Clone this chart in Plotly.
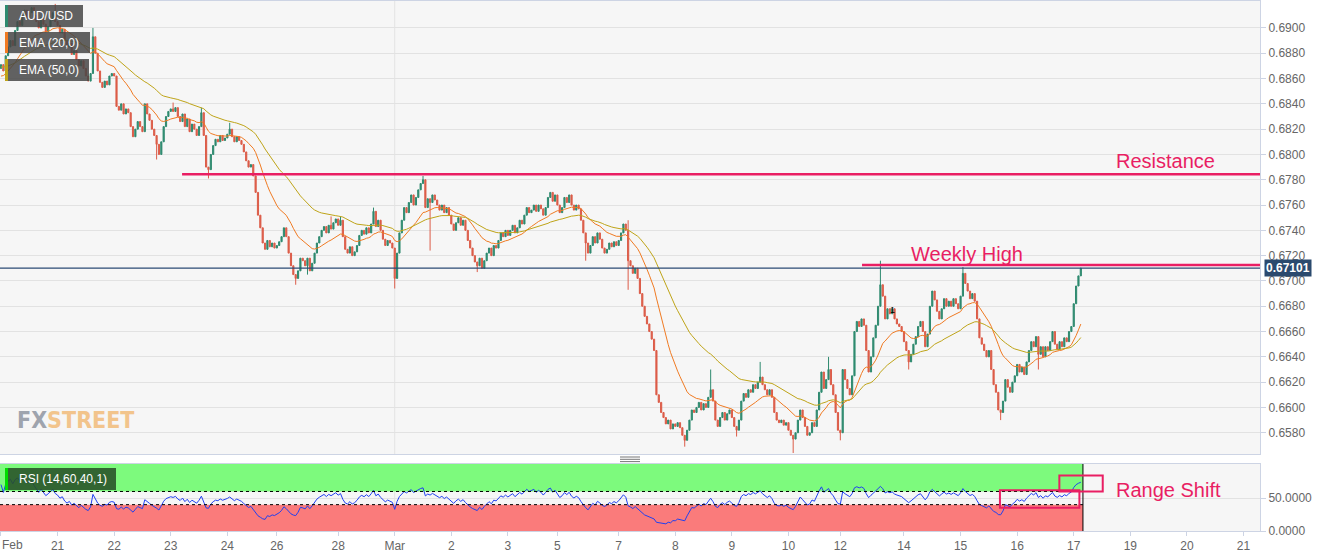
import numpy as np
import plotly.graph_objects as go
from plotly.subplots import make_subplots

# ---------------- data (hourly closes, AUD/USD) ----------------
first_open = 0.6868
feb20 = [0.6871, 0.6866, 0.6878, 0.6885, 0.6890, 0.6886, 0.6898, 0.6905, 0.6902, 0.6910,
         0.6914, 0.6908, 0.6912, 0.6916, 0.6910, 0.6905, 0.6900, 0.6908, 0.6903, 0.6897,
         0.6901, 0.6906, 0.6912, 0.6905]
feb21 = [0.6902, 0.6896, 0.6899, 0.6890, 0.6885, 0.6888, 0.6879, 0.6882, 0.6875, 0.6870,
         0.6874, 0.6868, 0.6862, 0.6858, 0.6864, 0.6893, 0.6880, 0.6866, 0.6857, 0.6853,
         0.6858, 0.6855, 0.6862, 0.6864]
feb22 = [0.6862, 0.6838, 0.6835, 0.6840, 0.6832, 0.6836, 0.6833, 0.6822, 0.6814, 0.6820,
         0.6826, 0.6822, 0.6818, 0.6840, 0.6832, 0.6827, 0.6820, 0.6815, 0.6808, 0.6800,
         0.6810, 0.6822, 0.6830, 0.6834]
feb23 = [0.6836, 0.6834, 0.6837, 0.6830, 0.6826, 0.6832, 0.6822, 0.6828, 0.6818, 0.6824,
         0.6820, 0.6815, 0.6822, 0.6833, 0.6815, 0.6790, 0.6788, 0.6800, 0.6807, 0.6812,
         0.6810, 0.6815, 0.6811, 0.6813]
feb24 = [0.6816, 0.6820, 0.6814, 0.6810, 0.6814, 0.6811, 0.6808, 0.6802, 0.6795, 0.6790,
         0.6792, 0.6783, 0.6770, 0.6752, 0.6742, 0.6730, 0.6725, 0.6732, 0.6727, 0.6730,
         0.6726]
feb26 = [0.6728, 0.6731]
feb27 = [0.6735, 0.6742, 0.6735, 0.6722, 0.6712, 0.6705, 0.6702, 0.6708, 0.6718, 0.6716,
         0.6712, 0.6718, 0.6708, 0.6714, 0.6722, 0.6730, 0.6735, 0.6740, 0.6743, 0.6738,
         0.6744, 0.6741, 0.6746, 0.6749]
feb28 = [0.6744, 0.6748, 0.6735, 0.6725, 0.6722, 0.6727, 0.6720, 0.6723, 0.6728, 0.6736,
         0.6740, 0.6737, 0.6742, 0.6738, 0.6745, 0.6755, 0.6743, 0.6748, 0.6740, 0.6733,
         0.6728, 0.6732, 0.6730, 0.6726]
mar01 = [0.6702, 0.6722, 0.6738, 0.6748, 0.6758, 0.6754, 0.6762, 0.6768, 0.6760, 0.6766,
         0.6772, 0.6777, 0.6780, 0.6758, 0.6765, 0.6762, 0.6768, 0.6764, 0.6760, 0.6756,
         0.6760, 0.6754, 0.6758, 0.6752]
mar02 = [0.6745, 0.6740, 0.6746, 0.6750, 0.6744, 0.6748, 0.6740, 0.6732, 0.6726, 0.6720,
         0.6715, 0.6712, 0.6718, 0.6710, 0.6716, 0.6722, 0.6726, 0.6720, 0.6728, 0.6726,
         0.6732, 0.6738, 0.6735, 0.6740]
mar03 = [0.6736, 0.6740, 0.6744, 0.6738, 0.6742, 0.6748, 0.6745, 0.6752, 0.6758, 0.6754,
         0.6756, 0.6760, 0.6755, 0.6760, 0.6757, 0.6752, 0.6758, 0.6766, 0.6770, 0.6763,
         0.6768]
mar05 = [0.6760, 0.6754]
mar06 = [0.6758, 0.6766, 0.6762, 0.6768, 0.6760, 0.6756, 0.6760, 0.6757, 0.6748, 0.6738,
         0.6730, 0.6722, 0.6728, 0.6735, 0.6730, 0.6738, 0.6733, 0.6726, 0.6722, 0.6725,
         0.6730, 0.6727, 0.6731, 0.6728]
mar07 = [0.6732, 0.6738, 0.6745, 0.6740, 0.6716, 0.6712, 0.6706, 0.6710, 0.6702, 0.6690,
         0.6680, 0.6672, 0.6666, 0.6660, 0.6654, 0.6645, 0.6610, 0.6604, 0.6596, 0.6592,
         0.6587, 0.6590, 0.6583, 0.6587]
mar08 = [0.6585, 0.6588, 0.6584, 0.6578, 0.6574, 0.6582, 0.6590, 0.6598, 0.6596, 0.6600,
         0.6604, 0.6598, 0.6603, 0.6600, 0.6608, 0.6614, 0.6605, 0.6590, 0.6585, 0.6592,
         0.6596, 0.6590, 0.6595, 0.6598]
mar09 = [0.6592, 0.6585, 0.6582, 0.6590, 0.6605, 0.6611, 0.6608, 0.6614, 0.6612, 0.6618,
         0.6615, 0.6620, 0.6624, 0.6618, 0.6614, 0.6610, 0.6614, 0.6608, 0.6596, 0.6590,
         0.6588, 0.6590, 0.6586, 0.6588]
mar10 = [0.6582, 0.6578, 0.6575, 0.6580, 0.6590, 0.6598, 0.6592, 0.6585, 0.6578, 0.6580,
         0.6588, 0.6585, 0.6598, 0.6612, 0.6628, 0.6615, 0.6622, 0.6630, 0.6618, 0.6610,
         0.6596, 0.6582]
mar12 = [0.6580, 0.6630, 0.6622]
mar13 = [0.6615, 0.6610, 0.6625, 0.6660, 0.6668, 0.6664, 0.6670, 0.6665, 0.6645, 0.6628,
         0.6640, 0.6655, 0.6665, 0.6680, 0.6697, 0.6688, 0.6670, 0.6678, 0.6674, 0.6678,
         0.6670, 0.6666, 0.6664, 0.6660]
mar14 = [0.6652, 0.6645, 0.6636, 0.6642, 0.6650, 0.6656, 0.6664, 0.6668, 0.6660, 0.6648,
         0.6658, 0.6680, 0.6692, 0.6685, 0.6676, 0.6670, 0.6678, 0.6686, 0.6680, 0.6684,
         0.6680, 0.6686, 0.6682, 0.6678]
mar15 = [0.6688, 0.6706, 0.6698, 0.6692, 0.6686, 0.6690, 0.6684, 0.6670, 0.6655, 0.6650,
         0.6645, 0.6640, 0.6645, 0.6630, 0.6618, 0.6612, 0.6598, 0.6596, 0.6605, 0.6622,
         0.6616, 0.6612, 0.6620, 0.6625]
mar16 = [0.6634, 0.6628, 0.6632, 0.6626, 0.6636, 0.6645, 0.6652, 0.6648, 0.6656, 0.6642,
         0.6648, 0.6640, 0.6648, 0.6645, 0.6652, 0.6660, 0.6650, 0.6646, 0.6652, 0.6648,
         0.6655, 0.6652, 0.6660, 0.6664]
mar17 = [0.6682, 0.6696, 0.6704, 0.67101]

# notable wick extremes (candle index -> price)
high_marks = {23: 0.6919, 39: 0.6900, 73: 0.6841, 85: 0.6837, 97: 0.6825, 140: 0.6751,
              144: 0.6751, 158: 0.6758, 179: 0.6783, 266: 0.6748, 301: 0.6630, 322: 0.6636,
              351: 0.6640, 373: 0.6716, 408: 0.6711}
low_marks = {66: 0.6796, 88: 0.6781, 125: 0.6697, 130: 0.6705, 167: 0.6694, 182: 0.6724,
             202: 0.6707, 248: 0.6716, 266: 0.6693, 290: 0.6569, 312: 0.6577, 336: 0.6564,
             356: 0.6574, 385: 0.6630, 424: 0.6590, 440: 0.6630}

ema20_seed = 0.6861
ema50_seed = 0.6869
rsi_seed_gain = 0.00012
rsi_seed_loss = 0.00006

tick_idx = [24, 48, 72, 96, 117, 143, 167, 191, 215, 236, 262, 286, 310, 334, 356,
            383, 407, 431, 455, 479, 503, 527]
tick_txt = ["21", "22", "23", "24", "26", "28", "Mar", "2", "3", "5", "7", "8", "9", "10",
            "12", "14", "15", "16", "17", "19", "20", "21"]

last_price = 0.67101
resistance = 0.67843
weekly_high = 0.67126

# ---------------- derived series ----------------
days = [feb20, feb21, feb22, feb23, feb24, feb26, feb27, feb28, mar01, mar02, mar03, mar05,
        mar06, mar07, mar08, mar09, mar10, mar12, mar13, mar14, mar15, mar16, mar17]
close = np.array([v for d in days for v in d])
n = len(close)
xi = np.arange(n)
open_ = np.concatenate([[first_open], close[:-1]])
high = np.maximum(open_, close)
low = np.minimum(open_, close)
for k, v in high_marks.items():
    high[k] = max(high[k], v)
for k, v in low_marks.items():
    low[k] = min(low[k], v)


def ema(vals, span, seed):
    a = 2.0 / (span + 1)
    out, prev = [], seed
    for v in vals:
        prev = a * v + (1 - a) * prev
        out.append(prev)
    return np.array(out)


ema20 = ema(close, 20, ema20_seed)
ema50 = ema(close, 50, ema50_seed)

rsi = []
ag, al = rsi_seed_gain, rsi_seed_loss
prev = first_open
for c in close:
    d = c - prev
    prev = c
    ag = (ag * 13 + max(d, 0)) / 14
    al = (al * 13 + max(-d, 0)) / 14
    rsi.append(100 - 100 / (1 + ag / al) if al > 0 else 100)
rsi = np.array(rsi)

# ---------------- figure ----------------
GREEN = "#2e8a6f"
RED = "#dc5c48"
PINK = "#E91E63"
FONT = "Liberation Sans, Arial, sans-serif"
AX = "#cdd4e4"
W, H = 1260.0, 530.0
XR = [-0.42, 534.0]


def px(x):
    return x / W


def py(y):
    return (531 - y) / H


fig = make_subplots(rows=2, cols=1, shared_xaxes=True)

fig.add_trace(go.Candlestick(
    x=xi, open=open_, high=high, low=low, close=close,
    increasing=dict(line=dict(color=GREEN, width=1), fillcolor=GREEN),
    decreasing=dict(line=dict(color=RED, width=1), fillcolor=RED),
    whiskerwidth=0, showlegend=False, name="AUD/USD"), row=1, col=1)
fig.add_trace(go.Scatter(x=xi, y=ema20, mode="lines", line=dict(color="#f07a22", width=1),
                         showlegend=False, name="EMA (20,0)"), row=1, col=1)
fig.add_trace(go.Scatter(x=xi, y=ema50, mode="lines", line=dict(color="#bfa418", width=1),
                         showlegend=False, name="EMA (50,0)"), row=1, col=1)
fig.add_trace(go.Scatter(x=xi, y=rsi, mode="lines", line=dict(color="#2040f0", width=1),
                         showlegend=False, name="RSI"), row=2, col=1)

end_x = n - 1 + 0.9
shapes = [
    # RSI bands
    dict(type="rect", xref="x2", yref="y2", x0=XR[0], x1=end_x, y0=60, y1=101.7,
         fillcolor="#7dfa7d", line=dict(width=0), layer="below"),
    dict(type="rect", xref="x2", yref="y2", x0=XR[0], x1=end_x, y0=0, y1=40,
         fillcolor="#fa7b7b", line=dict(width=0), layer="below"),
    dict(type="line", xref="x2", yref="y2", x0=XR[0], x1=end_x, y0=60, y1=60,
         line=dict(color="black", width=1, dash="dot")),
    dict(type="line", xref="x2", yref="y2", x0=XR[0], x1=end_x, y0=40, y1=40,
         line=dict(color="black", width=1, dash="dot")),
    dict(type="line", xref="x2", yref="y2", x0=end_x, x1=end_x, y0=0, y1=101.7,
         line=dict(color="black", width=1)),
    # Mar vertical grid line
    dict(type="line", xref="x", yref="paper", x0=167, x1=167, y0=py(454), y1=1,
         line=dict(color="#e3e3e3", width=1), layer="below"),
    dict(type="line", xref="x2", yref="paper", x0=167, x1=167, y0=0, y1=py(464),
         line=dict(color="#e3e3e3", width=1), layer="below"),
    # current price line
    dict(type="line", xref="x", yref="y", x0=XR[0], x1=XR[1], y0=last_price, y1=last_price,
         line=dict(color="#2b4a75", width=1.2)),
    # resistance / weekly high
    dict(type="line", xref="x", yref="y", x0=76.8, x1=XR[1], y0=resistance, y1=resistance,
         line=dict(color=PINK, width=2.5)),
    dict(type="line", xref="x", yref="y", x0=365.2, x1=XR[1], y0=weekly_high, y1=weekly_high,
         line=dict(color=PINK, width=2.5)),
    # range shift boxes
    dict(type="rect", xref="x2", yref="y2", x0=423.7, x1=457.4, y0=35.3, y1=61.8,
         line=dict(color=PINK, width=2), fillcolor="rgba(0,0,0,0)"),
    dict(type="rect", xref="x2", yref="y2", x0=448.9, x1=467.3, y0=59.8, y1=84.4,
         line=dict(color=PINK, width=2), fillcolor="rgba(0,0,0,0)"),
]

# legend label boxes
for (y0, y1, x1, stripe) in [(5, 27, 83, GREEN), (32, 53, 90, "#f07a22"), (59, 81, 89, "#bfa418")]:
    shapes.append(dict(type="rect", xref="paper", yref="paper", x0=px(5), x1=px(x1),
                       y0=py(y1), y1=py(y0), fillcolor="rgba(70,70,70,0.85)", line=dict(width=0)))
    shapes.append(dict(type="rect", xref="paper", yref="paper", x0=px(5), x1=px(8),
                       y0=py(y1), y1=py(y0), fillcolor=stripe, line=dict(width=0)))
shapes.append(dict(type="rect", xref="paper", yref="paper", x0=px(5), x1=px(116),
                   y0=py(490), y1=py(468), fillcolor="rgba(40,80,40,0.88)", line=dict(width=0)))
shapes.append(dict(type="rect", xref="paper", yref="paper", x0=px(5), x1=px(8),
                   y0=py(490), y1=py(468), fillcolor="#00dd00", line=dict(width=0)))
# resize handle
for yy in (457, 459.3, 461.6):
    shapes.append(dict(type="line", xref="paper", yref="paper", x0=px(620), x1=px(640),
                       y0=py(yy), y1=py(yy), line=dict(color="#777777", width=1)))

annotations = [
    dict(text="AUD/USD", xref="paper", yref="paper", x=px(17), y=py(16), xanchor="left",
         yanchor="middle", showarrow=False, font=dict(family=FONT, size=12, color="white")),
    dict(text="EMA (20,0)", xref="paper", yref="paper", x=px(17), y=py(42.5), xanchor="left",
         yanchor="middle", showarrow=False, font=dict(family=FONT, size=12, color="white")),
    dict(text="EMA (50,0)", xref="paper", yref="paper", x=px(17), y=py(70), xanchor="left",
         yanchor="middle", showarrow=False, font=dict(family=FONT, size=12, color="white")),
    dict(text="RSI (14,60,40,1)", xref="paper", yref="paper", x=px(17), y=py(479),
         xanchor="left", yanchor="middle", showarrow=False,
         font=dict(family=FONT, size=12, color="white")),
    dict(text="Resistance", xref="x", yref="y", x=494.1, y=0.67948, showarrow=False,
         font=dict(family=FONT, size=20, color=PINK)),
    dict(text="Weekly High", xref="x", yref="y", x=409.7, y=0.67217, showarrow=False,
         font=dict(family=FONT, size=20, color=PINK)),
    dict(text="Range Shift", xref="x2", yref="y2", x=495.4, y=61.8, showarrow=False,
         font=dict(family=FONT, size=20, color=PINK)),
    dict(text="<b>%.5f</b>" % last_price, xref="paper", yref="y", x=px(1264), y=last_price,
         xanchor="left", yanchor="middle", showarrow=False, bgcolor="#2b4a6e", borderpad=1,
         font=dict(family=FONT, size=12, color="white")),
    dict(text="Feb", xref="paper", yref="paper", x=0, y=py(545), xanchor="left",
         yanchor="middle", showarrow=False, font=dict(family=FONT, size=12, color="#666666")),
    dict(text="1", xref="x", yref="y", x=378.3, y=0.66767, showarrow=False,
         font=dict(family=FONT, size=9, color="black")),
    dict(text="<b><span style='color:#9ea4ae'>FX</span><span style='color:#f2c48c'>STREET</span></b>",
         xref="paper", yref="paper", x=px(15), y=py(420), xanchor="left", yanchor="middle",
         showarrow=False,
         font=dict(family="DejaVu Sans Condensed, Liberation Sans Narrow, sans-serif", size=23)),
]

fig.update_layout(
    width=1331, height=558,
    margin=dict(l=0, r=71, t=1, b=27),
    paper_bgcolor="white", plot_bgcolor="#f6f6f6",
    font=dict(family=FONT, size=12, color="#666666"),
    shapes=shapes, annotations=annotations, showlegend=False,
    xaxis=dict(range=XR, rangeslider=dict(visible=False), showticklabels=False, showgrid=False,
               zeroline=False, showline=True, mirror=True, linecolor=AX, ticks=""),
    xaxis2=dict(range=XR, tickvals=[0] + tick_idx, ticktext=[""] + tick_txt, ticks="outside",
                ticklen=4, tickcolor=AX, showgrid=False, zeroline=False, showline=True,
                mirror=True, linecolor=AX, tickfont=dict(size=12, color="#666666")),
    yaxis=dict(domain=[py(454), 1.0], side="right", range=[0.65632, 0.69213],
               tickvals=[round(0.658 + 0.002 * i, 4) for i in range(17)], tickformat=".4f",
               ticks="outside", ticklen=5, tickcolor=AX, gridcolor="#e2e2e2",
               showline=True, mirror=True, linecolor=AX, zeroline=False,
               tickfont=dict(size=12, color="#666666")),
    yaxis2=dict(domain=[0, py(464)], side="right", range=[0, 101.7], tickvals=[0, 50],
                ticktext=["0.0000", "50.0000"], ticks="outside", ticklen=5, tickcolor=AX,
                gridcolor="#e2e2e2", showline=True, mirror=True, linecolor=AX, zeroline=False,
                tickfont=dict(size=12, color="#666666")),
)

fig.write_html("out.html", config={"displayModeBar": False},
               post_script="document.body.style.margin='0';document.body.style.overflow='hidden';")
